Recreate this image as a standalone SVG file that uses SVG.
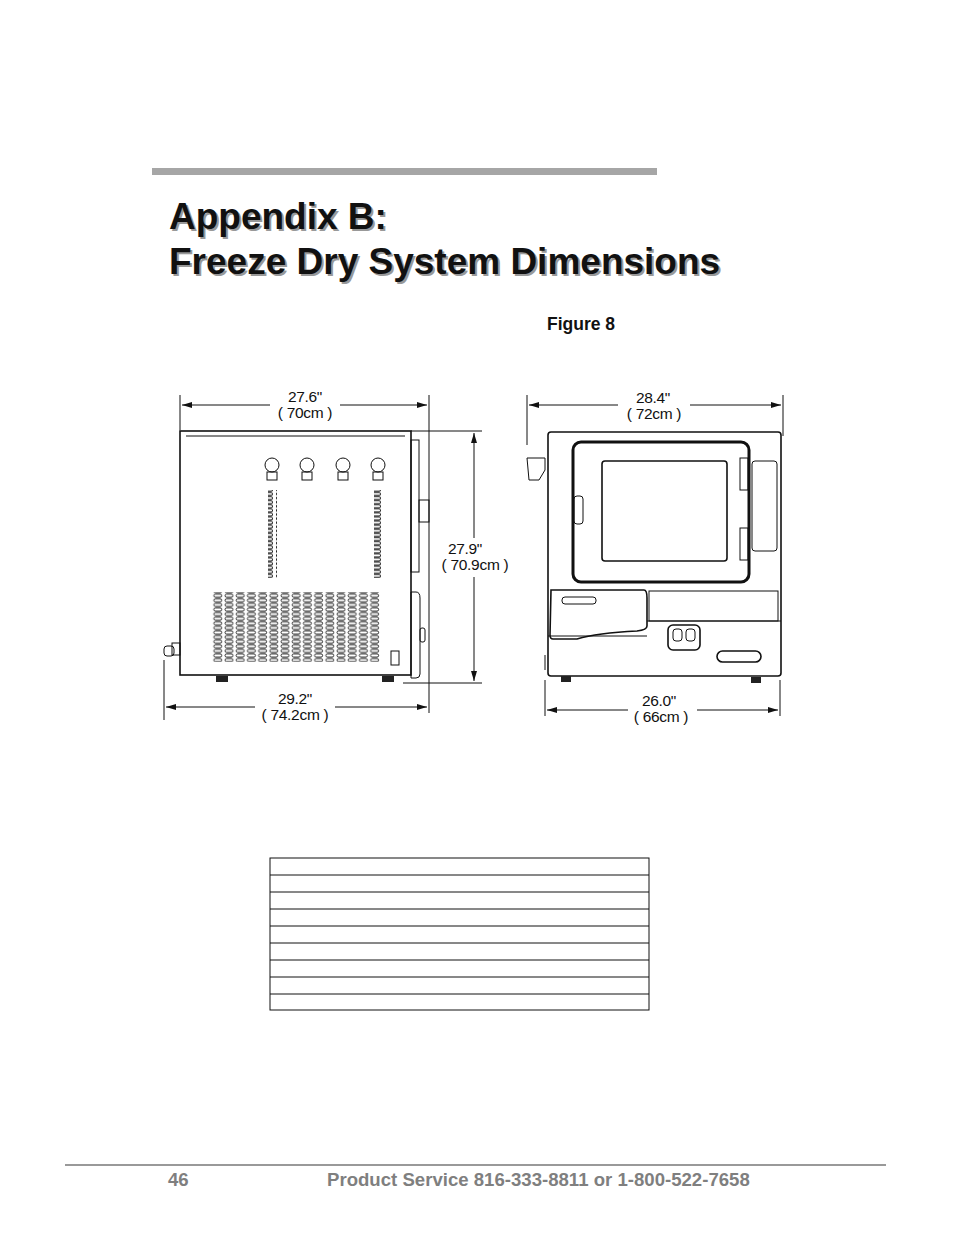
<svg xmlns="http://www.w3.org/2000/svg" width="954" height="1235" viewBox="0 0 954 1235">
<defs>
<style>
.t{font-family:"Liberation Sans",Arial,sans-serif}
.d{fill:#111;font-family:"Liberation Sans",Arial,sans-serif;font-size:15.5px;letter-spacing:-0.3px}
.ln{stroke:#111;stroke-width:1;fill:none}
.th{stroke:#111;stroke-width:1.6;fill:none}
.tk{stroke:#111;stroke-width:3;fill:none}
</style>
<marker id="a" viewBox="0 0 10 6" refX="10" refY="3" markerWidth="10" markerHeight="6" orient="auto-start-reverse"><path d="M0,0L10,3L0,6z" fill="#111"/></marker>
<pattern id="slot" width="11.2" height="4.6" patternUnits="userSpaceOnUse"><rect x="1" y="0.8" width="8" height="3" rx="1.5" fill="none" stroke="#111" stroke-width="0.9"/></pattern>
<pattern id="slot1" width="12" height="4.1" patternUnits="userSpaceOnUse"><rect x="0.5" y="0.6" width="8" height="2.8" rx="1.4" fill="none" stroke="#111" stroke-width="0.9"/></pattern>
</defs>
<rect width="954" height="1235" fill="#fff"/>
<rect x="152" y="168" width="505" height="7" fill="#a6a6a6"/>
<g id="title" class="t" font-size="37" font-weight="bold">
<text x="171" y="231" fill="#999">Appendix B:</text>
<text x="169" y="229" fill="#111">Appendix B:</text>
<text x="171" y="276" fill="#999">Freeze Dry System Dimensions</text>
<text x="169" y="274" fill="#111">Freeze Dry System Dimensions</text>
</g>
<text x="547" y="330" class="t" font-size="17.5" font-weight="bold" fill="#111">Figure 8</text>

<g id="side-view">
<rect x="180" y="431" width="231" height="244" class="th"/>
<line x1="186" y1="436" x2="405" y2="436" class="ln"/>
<rect x="411" y="440" width="8" height="132" class="ln"/>
<rect x="419" y="500" width="10" height="22" class="ln"/>
<path d="M411 592 h5 q4 0 4 6 v76 q0 4 -4 4 h-5z" class="ln"/>
<rect x="420" y="628" width="5" height="14" rx="2" class="ln"/>
<g class="ln">
<circle cx="272" cy="465" r="7"/><rect x="267" y="472" width="10" height="8"/>
<circle cx="307" cy="465" r="7"/><rect x="302" y="472" width="10" height="8"/>
<circle cx="343" cy="465" r="7"/><rect x="338" y="472" width="10" height="8"/>
<circle cx="378" cy="465" r="7"/><rect x="373" y="472" width="10" height="8"/>
</g>
<rect x="268" y="490" width="9" height="88" fill="url(#slot1)"/>
<rect x="374" y="490" width="9" height="88" fill="url(#slot1)"/>
<rect x="212" y="592" width="168" height="70" fill="url(#slot)"/>
<rect x="391" y="651" width="8" height="14" class="ln"/>
<rect x="164" y="646" width="10" height="10" rx="3" class="ln"/><rect x="172" y="643" width="8" height="12" class="ln"/>
<rect x="216" y="676" width="12" height="6" fill="#222"/>
<rect x="382" y="676" width="12" height="6" fill="#222"/>
</g>

<g id="front-view">
<rect x="548" y="432" width="233" height="244" rx="3" class="th"/>
<rect x="573" y="442" width="176" height="140" rx="8" class="tk"/>
<rect x="602" y="461" width="125" height="100" rx="3" class="th"/>
<rect x="752" y="461" width="25" height="90" rx="3" class="ln"/>
<rect x="574" y="496" width="9" height="28" rx="3" class="ln"/>
<rect x="740" y="458" width="8" height="32" class="ln"/>
<rect x="740" y="528" width="8" height="32" class="ln"/>
<path d="M551 590 h93 q3 0 3 8 v28 q0 4 -10 5 q-40 2 -60 8 h-24 q-3 0 -3 -4z" class="th"/>
<rect x="562" y="597" width="34" height="7" rx="3" class="ln"/>
<rect x="649" y="591" width="129" height="30" class="ln"/>
<line x1="548" y1="636" x2="647" y2="636" class="ln"/>
<line x1="647" y1="621" x2="781" y2="621" class="ln"/>
<rect x="668" y="625" width="32" height="25" rx="5" class="th"/>
<rect x="673" y="629" width="9" height="12" rx="3" class="ln"/><rect x="686" y="629" width="9" height="12" rx="3" class="ln"/>
<rect x="717" y="651" width="44" height="11" rx="5.5" class="th"/>
<path d="M527 458 h18 v12 l-6 10 h-10z" class="ln"/>
<rect x="561" y="676" width="10" height="6" fill="#222"/>
<rect x="751" y="677" width="10" height="6" fill="#222"/>
<line x1="545" y1="655" x2="545" y2="670" class="ln"/>
</g>

<g id="connectors">
<line x1="180" y1="395" x2="180" y2="430" class="ln"/>
<line x1="429" y1="395" x2="429" y2="713" class="ln"/>
<line x1="182" y1="405" x2="270" y2="405" class="ln" marker-start="url(#a)"/>
<line x1="340" y1="405" x2="427" y2="405" class="ln" marker-end="url(#a)"/>
<line x1="411" y1="431" x2="482" y2="431" class="ln"/>
<line x1="403" y1="683" x2="482" y2="683" class="ln"/>
<line x1="474" y1="433" x2="474" y2="538" class="ln" marker-start="url(#a)"/>
<line x1="474" y1="577" x2="474" y2="681" class="ln" marker-end="url(#a)"/>
<line x1="164" y1="660" x2="164" y2="720" class="ln"/>
<line x1="166" y1="707" x2="255" y2="707" class="ln" marker-start="url(#a)"/>
<line x1="335" y1="707" x2="427" y2="707" class="ln" marker-end="url(#a)"/>
<line x1="527" y1="395" x2="527" y2="445" class="ln"/>
<line x1="783" y1="395" x2="783" y2="436" class="ln"/>
<line x1="529" y1="405" x2="618" y2="405" class="ln" marker-start="url(#a)"/>
<line x1="690" y1="405" x2="781" y2="405" class="ln" marker-end="url(#a)"/>
<line x1="545" y1="680" x2="545" y2="716" class="ln"/>
<line x1="780" y1="680" x2="780" y2="716" class="ln"/>
<line x1="547" y1="710" x2="628" y2="710" class="ln" marker-start="url(#a)"/>
<line x1="697" y1="710" x2="778" y2="710" class="ln" marker-end="url(#a)"/>
</g>
<g id="labels">
<text x="305" y="402" class="d" text-anchor="middle">27.6"</text>
<text x="305" y="418" class="d" text-anchor="middle">( 70cm )</text>
<text x="465" y="554" class="d" text-anchor="middle">27.9"</text>
<text x="475" y="570" class="d" text-anchor="middle">( 70.9cm )</text>
<text x="295" y="704" class="d" text-anchor="middle">29.2"</text>
<text x="295" y="720" class="d" text-anchor="middle">( 74.2cm )</text>
<text x="653" y="403" class="d" text-anchor="middle">28.4"</text>
<text x="654" y="419" class="d" text-anchor="middle">( 72cm )</text>
<text x="659" y="706" class="d" text-anchor="middle">26.0"</text>
<text x="661" y="722" class="d" text-anchor="middle">( 66cm )</text>
</g>

<g id="table" stroke="#111" stroke-width="1">
<rect x="270" y="858" width="379" height="152" fill="none"/>
<line x1="270" y1="875" x2="649" y2="875"/><line x1="270" y1="892" x2="649" y2="892"/>
<line x1="270" y1="909" x2="649" y2="909"/><line x1="270" y1="926" x2="649" y2="926"/>
<line x1="270" y1="943" x2="649" y2="943"/><line x1="270" y1="960" x2="649" y2="960"/>
<line x1="270" y1="977" x2="649" y2="977"/><line x1="270" y1="994" x2="649" y2="994"/>
</g>
<rect x="65" y="1164" width="821" height="2" fill="#999"/>
<g class="t" font-size="18.6" font-weight="bold" fill="#7f7f7f">
<text x="168" y="1186">46</text>
<text x="327" y="1186">Product Service 816-333-8811 or 1-800-522-7658</text>
</g>
</svg>
